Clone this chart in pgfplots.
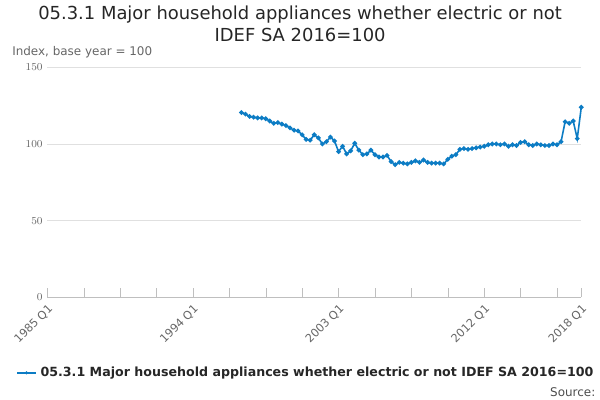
\documentclass[border=0pt]{standalone}
\usepackage{pgfplots}
\pgfplotsset{compat=1.18}
\usepackage{fontspec}
\setmainfont{DejaVu Sans}
\definecolor{ln}{HTML}{0C7CC4}
\begin{document}
\begin{tikzpicture}
\path[use as bounding box] (0,0) rectangle (15.875cm,10.583cm);
\node[font=\fontsize{13.5}{16}\selectfont, align=center, text=black!85] at (7.94cm,9.95cm) {05.3.1 Major household appliances whether electric or not\\IDEF SA 2016=100};
\node[font=\fontsize{9}{11}\selectfont, text=black!60, anchor=west] at (0.2cm,9.2cm) {Index, base year = 100};
\begin{axis}[at={(1.25cm,2.72cm)}, anchor=south west, width=14.13cm, height=6.08cm, scale only axis,
 xmin=0, xmax=132, ymin=0, ymax=150,
 axis x line*=bottom, axis y line*=left, y axis line style={draw=none},
 ytick={0,50,100,150}, ymajorgrids, grid style={black!12},
 y tick label style={font=\fontsize{8.5}{10}\selectfont, text=black!60},
 ytick style={draw=none},
 xtick={0,36,72,108,132}, xticklabels={1985 Q1,1994 Q1,2003 Q1,2012 Q1,2018 Q1},
 minor xtick={9,18,27,45,54,63,81,90,99,117,126},
 x tick label style={rotate=45, anchor=north east, font=\fontsize{8.5}{10}\selectfont, text=black!60},
 x tick style={black!25}, minor tick length=0.25cm, major tick length=0.25cm,
 xtick align=inside, x axis line style={black!25},
 clip=false]
\addplot[ln, line width=1.2pt, mark=*, mark size=1.1pt] table[x expr=\coordindex+48, y=y] {
y
120.5
119.5
118
117.5
117
117
116.5
115
113.5
114
113
112
110.5
109
108.5
106
103
102.5
106
104
100
101.5
104.5
102
95
98.5
93.5
95.5
100.5
96
93
93.5
96
93
91.5
91.5
92.5
88.5
86.5
88
87.5
87
88
89
88
89.5
88
87.5
87.5
87.5
87
90
92
93
96.5
97
96.5
97
97.5
98
98.5
99.5
100
100
99.5
100
98.5
99.5
99
101
101.5
99.5
99
100
99.5
99
99
100
99.5
101.5
114.5
113.5
115
103.5
124
};
\end{axis}
\draw[ln, line width=1.2pt] (0.45cm,0.72cm) -- (0.95cm,0.72cm);
\fill[ln] (0.7cm,0.72cm) circle (1.3pt);
\node[anchor=west, font=\fontsize{9.5}{11}\selectfont\bfseries, text=black!85] at (0.95cm,0.72cm) {05.3.1 Major household appliances whether electric or not IDEF SA 2016=100};
\node[anchor=east, font=\fontsize{9}{11}\selectfont, text=black!70] at (15.875cm,0.22cm) {Source:};
\end{tikzpicture}
\end{document}
